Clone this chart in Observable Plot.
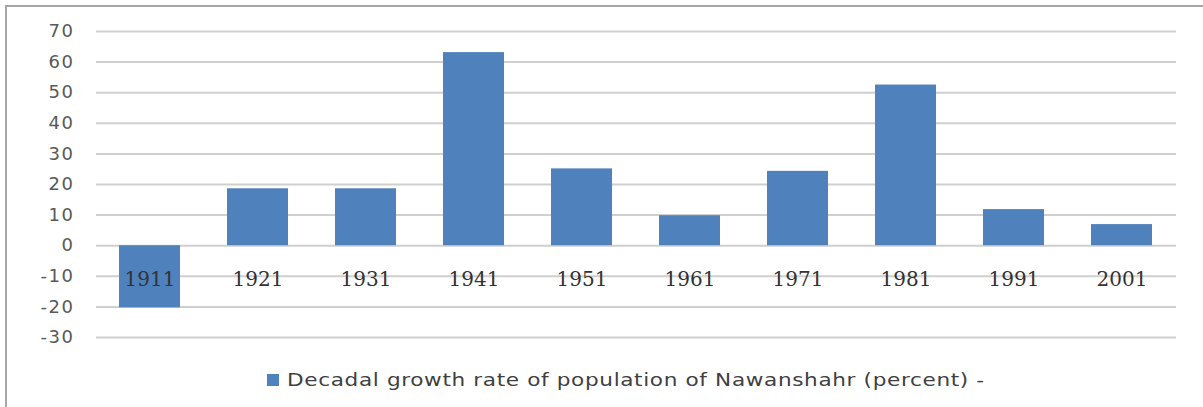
<!DOCTYPE html>
<html>
<head>
<meta charset="utf-8">
<script src="https://cdn.jsdelivr.net/npm/d3@7"></script>
<script src="https://cdn.jsdelivr.net/npm/@observablehq/plot@0.6"></script>
<style>
  html, body { margin: 0; padding: 0; background: #fff; }
  body { width: 1203px; height: 407px; position: relative; overflow: hidden; }
  #frame { position: absolute; left: 5px; top: 5px; width: 1300px; height: 500px;
           border-left: 2px solid #a6a6a6; border-top: 2px solid #a6a6a6; }
  #chart { position: absolute; left: 0; top: 0; }
  #legend { position: absolute; left: 267px; top: 369px; height: 22px; display: flex; align-items: center;
            font-family: "DejaVu Sans", sans-serif; font-size: 17px; color: #404040; white-space: nowrap; }
  #legend .sw { width: 12px; height: 12px; background: #4f81bd; margin-right: 8px; flex: none; }
  #legend-text { display: inline-block; letter-spacing: 0.5px; transform: scaleX(1.27); transform-origin: left center; }
</style>
</head>
<body>
<div id="frame"></div>
<div id="chart"></div>
<div id="legend"><span class="sw"></span><span id="legend-text"></span></div>
<script>
const years = ["1911","1921","1931","1941","1951","1961","1971","1981","1991","2001"];
const growth = [-20.3, 18.6, 18.6, 63.1, 25.1, 9.8, 24.3, 52.5, 11.8, 6.9];
const yTicks = [-30, -20, -10, 0, 10, 20, 30, 40, 50, 60, 70];
const seriesName = "Decadal growth rate of population of Nawanshahr (percent) -";
const barColor = "#4f81bd";

const data = years.map((year, i) => ({year, value: growth[i]}));

const chart = Plot.plot({
  width: 1203,
  height: 350,
  marginTop: 31,
  marginBottom: 13,
  marginLeft: 96,
  marginRight: 27,
  x: {domain: years, paddingInner: 0.435, paddingOuter: 0.2175, axis: null, label: null},
  y: {domain: [-30, 70], axis: null, label: null},
  marks: [
    Plot.ruleY(yTicks, {stroke: "#cfcfcf", strokeWidth: 2}),
    Plot.barY(data, {x: "year", y: "value", fill: barColor}),
    Plot.axisY({ticks: yTicks, tickSize: 0, tickPadding: 22, tickFormat: d => String(d), label: null,
      fontFamily: "DejaVu Sans", fontSize: 18, fill: "#595959"}),
    Plot.axisX({anchor: "bottom", tickSize: 0, tickPadding: 0, dy: -66, label: null,
      fontFamily: "DejaVu Serif", fontSize: 20, fill: "#333333"})
  ]
});
chart.style.background = "transparent";
chart.querySelectorAll("[aria-label='y-axis tick label'] text").forEach(t => t.style.letterSpacing = "1.5px");
document.getElementById("chart").appendChild(chart);
document.getElementById("legend-text").textContent = seriesName;
</script>
</body>
</html>
